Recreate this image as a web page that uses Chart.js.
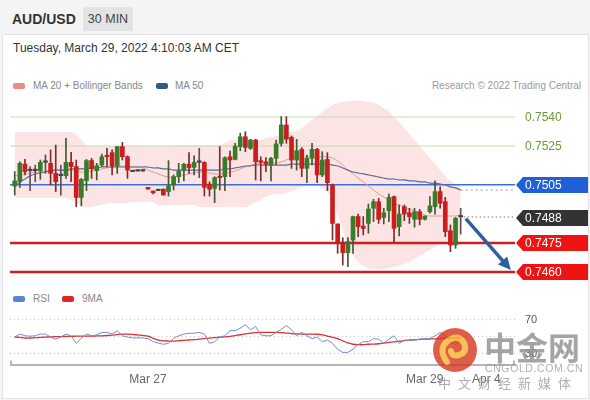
<!DOCTYPE html>
<html>
<head>
<meta charset="utf-8">
<script src="https://cdn.jsdelivr.net/npm/chart.js@4.4.0/dist/chart.umd.min.js"></script>
<style>
  body { margin:0; width:590px; height:400px; background:#f4f4f4; position:relative; overflow:hidden;
         font-family:"Liberation Sans", Arial, sans-serif; }
  .abs { position:absolute; white-space:nowrap; }
  #panel { position:absolute; left:2px; top:34px; width:585px; height:363px; background:#fff; border:1px solid #e4e4e4; }
  .sw { position:absolute; width:12px; height:6px; border-radius:2px; }
  .lg { font-size:10px; color:#888; }
  #wm { position:absolute; left:0; top:0; width:590px; height:400px; pointer-events:none; opacity:0.8; }
</style>
</head>
<body>
<div id="panel"></div>
<div class="abs" style="left:12px;top:11px;font-size:14px;font-weight:bold;color:#333;">AUD/USD</div>
<div class="abs" style="left:83px;top:7px;width:50px;height:24px;line-height:24px;background:#e2e3e5;border-radius:2px;text-align:center;font-size:12.5px;color:#444;">30 MIN</div>
<div class="abs" style="left:13px;top:41px;font-size:12px;color:#333;">Tuesday, March 29, 2022 4:10:03 AM CET</div>

<div class="sw" style="left:13px;top:83px;background:#ef8a86;"></div>
<div class="abs lg" style="left:33px;top:80px;">MA 20 + Bollinger Bands</div>
<div class="sw" style="left:156px;top:83px;background:#2f5a8c;"></div>
<div class="abs lg" style="left:175px;top:80px;">MA 50</div>
<div class="abs lg" style="right:9px;top:80px;color:#9a9a9a;">Research © 2022 Trading Central</div>

<div class="sw" style="left:13px;top:296px;background:#5b84d4;"></div>
<div class="abs lg" style="left:33px;top:293px;">RSI</div>
<div class="sw" style="left:62px;top:296px;background:#e02424;"></div>
<div class="abs lg" style="left:82px;top:293px;">9MA</div>

<canvas id="price" class="abs" width="580" height="180" style="left:10px;top:100px;"></canvas>
<canvas id="rsi" class="abs" width="580" height="90" style="left:10px;top:305px;"></canvas>

<svg id="wm" width="590" height="400">
  <circle cx="455" cy="350" r="22" fill="#d8361f"/>
  <path d="M447 362 q-10 -14 2 -22 q10 -6 15 3 q4 9 -5 12 q-7 2 -8 -4" fill="none" stroke="#f6b52c" stroke-width="6" stroke-linecap="round"/>
  <text x="484" y="360" font-family="Noto Sans CJK SC" font-weight="bold" font-size="32" fill="#8e8e8e">中金网</text>
  <text x="485" y="372" font-family="Liberation Sans, Arial" font-size="10.5" fill="#9a9a9a" letter-spacing="0.6">CNGOLD.COM.CN</text>
  <text x="438" y="388" font-family="Noto Sans CJK SC" font-size="13" fill="#9a9a9a" letter-spacing="7">中文财经新媒体</text>
</svg>

<script>
// ---- data (30 min candles, index 0..87) ----
const opens = [0.75044,0.75066,0.75157,0.75123,0.75123,0.75123,0.75166,0.75161,0.75109,0.75097,
  0.75097,0.75166,0.75144,0.74985,0.75071,0.75175,0.75123,0.75152,0.75200,0.75216,
  0.75147,0.75247,0.75195,0.75118,0.75121,0.75121,0.75037,0.75018,0.75020,0.75028,
  0.75015,0.75049,0.75092,0.75126,0.75156,0.75140,0.75166,0.75166,0.75054,0.75032,
  0.75092,0.75092,0.75195,0.75181,0.75247,0.75298,0.75238,0.75281,0.75175,0.75169,
  0.75152,0.75187,0.75264,0.75359,0.75295,0.75178,0.75233,0.75135,0.75187,0.75233,
  0.75101,0.75181,0.75049,0.74848,0.74748,0.74700,0.74765,0.74886,0.74837,0.74851,
  0.74929,0.74963,0.74882,0.74916,0.74989,0.74834,0.74937,0.74906,0.74872,0.74911,
  0.74872,0.74911,0.74937,0.75015,0.74963,0.74813,0.74739,0.74884];
const highs = [0.75118,0.75169,0.75181,0.75144,0.75152,0.75178,0.75204,0.75230,0.75255,0.75152,
  0.75290,0.75218,0.75178,0.75083,0.75181,0.75187,0.75161,0.75209,0.75238,0.75230,
  0.75247,0.75269,0.75199,0.75118,0.75121,0.75121,0.75037,0.75018,0.75020,0.75028,
  0.75175,0.75101,0.75161,0.75161,0.75216,0.75199,0.75238,0.75169,0.75066,0.75092,
  0.75247,0.75195,0.75224,0.75264,0.75316,0.75324,0.75285,0.75285,0.75195,0.75190,
  0.75192,0.75281,0.75402,0.75402,0.75302,0.75285,0.75242,0.75204,0.75264,0.75238,
  0.75221,0.75216,0.75054,0.74848,0.74777,0.74777,0.74889,0.74899,0.74886,0.74951,
  0.74975,0.74980,0.74929,0.75003,0.74992,0.74946,0.74946,0.74929,0.74929,0.74923,
  0.74889,0.74989,0.75071,0.75040,0.74985,0.74843,0.74882,0.74929];
const lows = [0.74997,0.75037,0.75101,0.75020,0.75066,0.75078,0.75109,0.75049,0.75015,0.74997,
  0.75083,0.75066,0.74937,0.74941,0.75020,0.75083,0.75075,0.75144,0.75144,0.75101,
  0.75109,0.75178,0.75083,0.75118,0.75121,0.75121,0.75028,0.75003,0.75020,0.74997,
  0.74992,0.75023,0.75061,0.75070,0.75109,0.75101,0.75087,0.74992,0.74992,0.74958,
  0.75023,0.75020,0.75092,0.75178,0.75226,0.75221,0.75233,0.75075,0.75070,0.75118,
  0.75070,0.75152,0.75250,0.75264,0.75135,0.75126,0.75092,0.75061,0.75152,0.75061,
  0.75092,0.75020,0.74765,0.74696,0.74636,0.74628,0.74696,0.74782,0.74791,0.74800,
  0.74860,0.74851,0.74848,0.74860,0.74757,0.74786,0.74865,0.74851,0.74831,0.74843,
  0.74868,0.74903,0.74899,0.74929,0.74782,0.74705,0.74722,0.74796];
const closes = [0.75070,0.75161,0.75118,0.75123,0.75123,0.75166,0.75166,0.75109,0.75066,0.75097,
  0.75166,0.75144,0.74985,0.75078,0.75175,0.75132,0.75149,0.75195,0.75195,0.75147,
  0.75247,0.75195,0.75126,0.75118,0.75121,0.75121,0.75028,0.75009,0.75020,0.74997,
  0.75044,0.75092,0.75121,0.75156,0.75139,0.75166,0.75166,0.75037,0.75027,0.75087,
  0.75087,0.75190,0.75178,0.75250,0.75298,0.75243,0.75281,0.75169,0.75166,0.75156,
  0.75187,0.75261,0.75359,0.75285,0.75178,0.75226,0.75135,0.75187,0.75233,0.75101,
  0.75178,0.75061,0.74851,0.74748,0.74700,0.74757,0.74886,0.74834,0.74825,0.74925,
  0.74963,0.74872,0.74906,0.74985,0.74825,0.74899,0.74899,0.74886,0.74911,0.74872,
  0.74889,0.74941,0.75015,0.74955,0.74808,0.74739,0.74877,0.74884];

const ma20 = [0.75096,0.75101,0.75106,0.75111,0.75116,0.75116,0.75121,0.75126,0.75126,0.75126,
  0.75126,0.75126,0.75121,0.75116,0.75116,0.75121,0.75126,0.75132,0.75137,0.75142,
  0.75147,0.75147,0.75147,0.75142,0.75142,0.75137,0.75126,0.75116,0.75106,0.75096,
  0.75090,0.75090,0.75096,0.75101,0.75106,0.75111,0.75116,0.75116,0.75111,0.75106,
  0.75106,0.75111,0.75116,0.75121,0.75132,0.75142,0.75152,0.75157,0.75163,0.75163,
  0.75163,0.75163,0.75168,0.75178,0.75188,0.75194,0.75194,0.75194,0.75194,0.75194,
  0.75194,0.75194,0.75188,0.75173,0.75152,0.75126,0.75106,0.75085,0.75065,0.75044,
  0.75023,0.75003,0.74987,0.74972,0.74956,0.74946,0.74935,0.74925,0.74915,0.74905,
  0.74894,0.74889,0.74889,0.74889,0.74889,0.74889,0.74889,0.74894];
const ma50 = [0.75044,0.75065,0.75080,0.75096,0.75106,0.75111,0.75116,0.75121,0.75126,0.75126,
  0.75126,0.75132,0.75132,0.75132,0.75132,0.75137,0.75137,0.75142,0.75142,0.75142,
  0.75142,0.75142,0.75142,0.75142,0.75142,0.75142,0.75142,0.75137,0.75137,0.75132,
  0.75132,0.75126,0.75126,0.75126,0.75126,0.75126,0.75126,0.75126,0.75126,0.75126,
  0.75126,0.75132,0.75132,0.75137,0.75142,0.75147,0.75147,0.75152,0.75152,0.75152,
  0.75152,0.75152,0.75152,0.75152,0.75157,0.75157,0.75157,0.75157,0.75157,0.75157,
  0.75157,0.75157,0.75152,0.75147,0.75137,0.75126,0.75116,0.75111,0.75106,0.75101,
  0.75096,0.75090,0.75085,0.75080,0.75080,0.75075,0.75075,0.75070,0.75070,0.75065,
  0.75065,0.75059,0.75059,0.75054,0.75049,0.75039,0.75034,0.75023];
const bbUpper = [0.75323,0.75323,0.75323,0.75323,0.75323,0.75323,0.75323,0.75323,0.75323,0.75323,
  0.75323,0.75323,0.75312,0.75281,0.75255,0.75250,0.75250,0.75250,0.75250,0.75250,
  0.75250,0.75250,0.75250,0.75250,0.75250,0.75250,0.75250,0.75250,0.75250,0.75250,
  0.75250,0.75255,0.75255,0.75255,0.75255,0.75255,0.75255,0.75255,0.75255,0.75255,
  0.75255,0.75266,0.75281,0.75281,0.75281,0.75281,0.75281,0.75281,0.75281,0.75292,
  0.75297,0.75302,0.75307,0.75317,0.75323,0.75328,0.75343,0.75364,0.75385,0.75405,
  0.75426,0.75446,0.75462,0.75472,0.75477,0.75483,0.75483,0.75483,0.75483,0.75477,
  0.75472,0.75462,0.75446,0.75426,0.75400,0.75374,0.75343,0.75312,0.75281,0.75250,
  0.75219,0.75188,0.75157,0.75126,0.75096,0.75070,0.75054,0.75044];
const bbLower = [0.74982,0.74982,0.74982,0.74982,0.74982,0.74982,0.74982,0.74982,0.74982,0.74982,
  0.74982,0.74972,0.74956,0.74941,0.74935,0.74935,0.74941,0.74946,0.74956,0.74956,
  0.74956,0.74956,0.74956,0.74961,0.74961,0.74961,0.74961,0.74961,0.74946,0.74946,
  0.74946,0.74946,0.74946,0.74946,0.74946,0.74946,0.74935,0.74935,0.74935,0.74935,
  0.74935,0.74935,0.74935,0.74935,0.74935,0.74935,0.74946,0.74961,0.74972,0.74987,
  0.74997,0.75003,0.75003,0.75008,0.75018,0.75028,0.75039,0.75044,0.75044,0.75044,
  0.75034,0.75013,0.74972,0.74894,0.74817,0.74740,0.74688,0.74652,0.74631,0.74621,
  0.74616,0.74616,0.74616,0.74621,0.74626,0.74631,0.74641,0.74652,0.74667,0.74683,
  0.74698,0.74714,0.74729,0.74745,0.74755,0.74765,0.74770,0.74776];

const rsi = [49.5,53,51,50.5,51,53,53,49.5,47,49.5,
  53,51,42,48,53,51,52,55,55,53,
  57,51,49.5,48.5,48.5,48.5,47.6,44,42.3,41,
  42,48,51,53,54,54,55,53,42,44,
  49.5,51,57,57,60,64,58,62,52,51,
  51,55,58.5,63,58,51,55,51,47.6,49.5,
  44,46,42,35,31.4,31.4,35,40.5,44,44,
  47.6,47,42,47,51,42,45.8,45.8,45.8,47,
  47.6,47.6,51,55,51,44,40.5,45.8];
const rsiMa = [49.5,49,48.4,48.4,48.8,49,49.3,49.8,50,50,
  50.2,50.4,50.5,50.5,50.5,50.6,50.8,51,51.3,51.8,
  52.4,53,53,52.6,52,51.4,50.5,48,46,45,
  44.8,44.8,45.2,45.6,46,46.4,47,47.6,48.2,48.8,
  49.3,49.6,50.2,51.2,52.2,53.2,54.2,54.8,55,55,
  55,55,54.8,54.2,53.6,53.2,53,53,53,52.8,
  52,50.6,49.2,47.6,45,42.6,41,40.5,40.5,41,
  41.2,41.6,42.4,43.2,43.8,44.6,45.2,45.8,46.4,46.8,
  47,47.2,47.4,47.8,48.2,48.4,48.4,48.4];

const levels = [0.7540, 0.7525, 0.7505, 0.7488, 0.7475, 0.7460];
const levelKinds = ['res', 'res', 'pivot', 'last', 'sup', 'sup'];
const timeTickIdx = [26, 80, 92];
const timeTickLabels = ['Mar 27', 'Mar 29', 'Apr 4'];
const rsiGrid = [30, 50, 70];
const rsiLabels = [30, 70];
const arrowFrom = { x: 88.0, y: 0.74875 };
const arrowTo = { x: 96.8, y: 0.74610 };

// ---- shared x range (slot index) ----
const X_MIN = -0.92, X_MAX = 97.6;

const levelStyle = {
  res:   { line: '#c9dcae', width: 1,   text: '#6b9a35', box: null },
  pivot: { line: '#3a6fd6', width: 1.5, text: '#ffffff', box: '#1f5fd8' },
  last:  { line: null,      width: 0,   text: '#ffffff', box: '#333333' },
  sup:   { line: '#cc2020', width: 2.5, text: '#ffffff', box: '#ee1414' }
};

const idx = opens.map((_, i) => i);
const pts = arr => arr.map((v, i) => ({ x: i, y: v }));
const candleColor = idx.map(i => closes[i] > opens[i] ? '#3a7a2b' : closes[i] < opens[i] ? '#cc1c1c' : '#444');
const wickColor = idx.map(i => closes[i] > opens[i] ? '#3d5a33' : closes[i] < opens[i] ? '#7d2b2b' : '#555');

const levelSets = [];
levels.forEach((v, k) => {
  const st = levelStyle[levelKinds[k]];
  if (st.line) {
    levelSets.push({ type: 'line', data: [{ x: X_MIN, y: v }, { x: X_MAX, y: v }],
      borderColor: st.line, borderWidth: st.width, pointRadius: 0, order: 8 });
  }
});
const last = opens.length - 1;

const tagPlugin = {
  id: 'tags',
  afterDatasetsDraw(chart) {
    const { ctx, chartArea, scales: { x, y } } = chart;
    ctx.save();
    // level tags
    ctx.font = '12px "Liberation Sans", Arial';
    ctx.textBaseline = 'middle';
    levels.forEach((v, k) => {
      const st = levelStyle[levelKinds[k]];
      const py = Math.round(y.getPixelForValue(v));
      const x0 = chartArea.right + 1;
      if (st.box) {
        ctx.fillStyle = st.box;
        ctx.beginPath();
        ctx.moveTo(x0, py);
        ctx.lineTo(x0 + 7, py - 8);
        ctx.lineTo(x0 + 72, py - 8);
        ctx.lineTo(x0 + 72, py + 8);
        ctx.lineTo(x0 + 7, py + 8);
        ctx.closePath();
        ctx.fill();
      }
      ctx.fillStyle = st.text;
      ctx.fillText(v.toFixed(4), x0 + 9, py + 1);
    });
    // forecast arrow
    const x1 = x.getPixelForValue(arrowFrom.x), y1 = y.getPixelForValue(arrowFrom.y);
    const x2 = x.getPixelForValue(arrowTo.x), y2 = y.getPixelForValue(arrowTo.y);
    const a = Math.atan2(y2 - y1, x2 - x1), head = 14;
    ctx.strokeStyle = '#2f5f9c';
    ctx.fillStyle = '#2f5f9c';
    ctx.lineWidth = 3.5;
    ctx.beginPath();
    ctx.moveTo(x1, y1);
    ctx.lineTo(x2 - Math.cos(a) * head * 0.8, y2 - Math.sin(a) * head * 0.8);
    ctx.stroke();
    ctx.beginPath();
    ctx.moveTo(x2, y2);
    ctx.lineTo(x2 - head * Math.cos(a - 0.45), y2 - head * Math.sin(a - 0.45));
    ctx.lineTo(x2 - head * Math.cos(a + 0.45), y2 - head * Math.sin(a + 0.45));
    ctx.closePath();
    ctx.fill();
    ctx.restore();
  }
};

new Chart(document.getElementById('price'), {
  type: 'bar',
  data: {
    datasets: [
      { type: 'line', data: pts(bbUpper), borderWidth: 0, pointRadius: 0, tension: 0.4,
        fill: '+1', backgroundColor: 'rgba(246,170,170,0.32)', order: 10 },
      { type: 'line', data: pts(bbLower), borderWidth: 0, pointRadius: 0, tension: 0.4, order: 10 },
      ...levelSets,
      { type: 'line', data: pts(ma50), borderColor: '#5d6d92', borderWidth: 1.2, pointRadius: 0, tension: 0.3, order: 5 },
      { type: 'line', data: pts(ma20), borderColor: '#e79793', borderWidth: 1, pointRadius: 0, tension: 0.3, order: 5 },
      { type: 'line', data: [{ x: last, y: ma50[last] }, { x: X_MAX, y: ma50[last] }],
        borderColor: '#8a97b3', borderWidth: 1, borderDash: [2, 3], pointRadius: 0, order: 5 },
      { type: 'line', data: [{ x: last + 0.6, y: closes[last] }, { x: X_MAX, y: closes[last] }],
        borderColor: '#333', borderWidth: 1, borderDash: [1, 3], pointRadius: 0, order: 5 },
      { data: idx.map(i => ({ x: i, y: [lows[i], highs[i]] })), backgroundColor: wickColor,
        barThickness: 1, grouped: false, order: 2 },
      { data: idx.map(i => ({ x: i, y: [opens[i], closes[i]] })), backgroundColor: candleColor,
        barThickness: 4, minBarLength: 1.5, grouped: false, order: 1 }
    ]
  },
  options: {
    responsive: false, animation: false,
    layout: { padding: { left: 0, right: 75, top: 0, bottom: 0 } },
    plugins: { legend: { display: false }, tooltip: { enabled: false } },
    scales: {
      x: { type: 'linear', min: X_MIN, max: X_MAX, offset: false, display: false },
      y: { min: 0.745587, max: 0.754877, beginAtZero: false, display: false }
    }
  },
  plugins: [tagPlugin]
});

const rsiPlugin = {
  id: 'rsiDeco',
  afterDraw(chart) {
    const { ctx, chartArea, scales: { y } } = chart;
    ctx.save();
    ctx.strokeStyle = '#b5b5b5';
    ctx.lineWidth = 2;
    [chartArea.left + 1, chartArea.right - 1].forEach(px => {
      ctx.beginPath();
      ctx.moveTo(px, chartArea.bottom);
      ctx.lineTo(px, chartArea.bottom - 4);
      ctx.stroke();
    });
    ctx.fillStyle = '#555';
    ctx.font = '11px "Liberation Sans", Arial';
    ctx.textBaseline = 'middle';
    rsiLabels.forEach(v => ctx.fillText(String(v), chartArea.right + 10, y.getPixelForValue(v)));
    ctx.restore();
  }
};

new Chart(document.getElementById('rsi'), {
  type: 'line',
  data: {
    datasets: [
      { data: pts(rsi), borderColor: '#6b8fd6', borderWidth: 1, pointRadius: 0, tension: 0 },
      { data: pts(rsiMa), borderColor: '#e03030', borderWidth: 1.3, pointRadius: 0, tension: 0.3 }
    ]
  },
  options: {
    responsive: false, animation: false,
    layout: { padding: 0 },
    plugins: { legend: { display: false }, tooltip: { enabled: false } },
    scales: {
      x: {
        type: 'linear', min: X_MIN, max: X_MAX,
        afterBuildTicks: s => { s.ticks = timeTickIdx.map(v => ({ value: v })); },
        grid: { display: false, drawTicks: false },
        border: { display: true, color: '#b5b5b5', width: 2 },
        ticks: { padding: 8, color: '#666', font: { size: 12, family: '"Liberation Sans", Arial' },
          maxRotation: 0, autoSkip: false,
          callback: v => timeTickLabels[timeTickIdx.indexOf(v)] }
      },
      y: {
        position: 'right', min: 17.0, max: 87.3,
        afterBuildTicks: s => { s.ticks = rsiGrid.map(v => ({ value: v })); },
        afterFit: s => { s.width = 75; },
        grid: { color: '#c4c4c4', borderDash: [1, 3], drawTicks: false },
        border: { display: false, dash: [1, 3] },
        ticks: { display: false }
      }
    }
  },
  plugins: [rsiPlugin]
});
</script>
</body>
</html>
